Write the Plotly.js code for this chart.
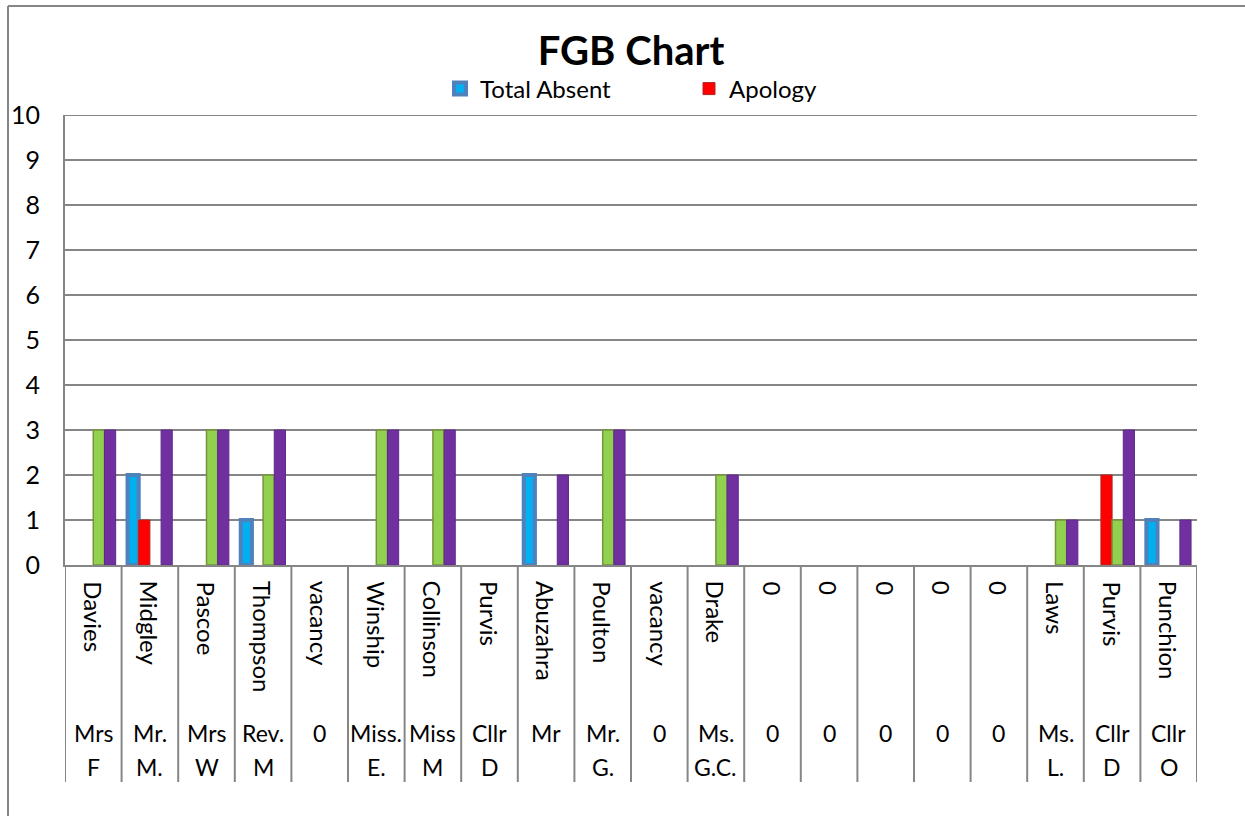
<!DOCTYPE html>
<html><head><meta charset="utf-8">
<script src="https://cdn.plot.ly/plotly-3.0.1.min.js"></script>
<style>html,body{margin:0;padding:0;background:#fff}#chart{width:1245px;height:816px}</style>
</head><body><div id="chart"></div>
<script>
// ---- data ----
const names = ["Davies","Midgley","Pascoe","Thompson","vacancy","Winship","Collinson","Purvis","Abuzahra","Poulton","vacancy","Drake","0","0","0","0","0","Laws","Purvis","Punchion"];
const titleLine1 = ["Mrs","Mr.","Mrs","Rev.","0","Miss.","Miss","Cllr","Mr","Mr.","0","Ms.","0","0","0","0","0","Ms.","Cllr","Cllr"];
const titleLine2 = ["F","M.","W","M","","E.","M","D","","G.","","G.C.","","","","","","L.","D","O"];
const totalAbsent   = [0,2,0,1,0,0,0,0,2,0,0,0,0,0,0,0,0,0,0,1];
const apology       = [0,1,0,0,0,0,0,0,0,0,0,0,0,0,0,0,0,0,2,0];
const attended      = [3,0,3,2,0,3,3,0,0,3,0,2,0,0,0,0,0,1,1,0];
const totalMeetings = [3,3,3,3,0,3,3,0,2,3,0,2,0,0,0,0,0,1,3,1];
const yTickVals = [0,1,2,3,4,5,6,7,8,9,10];

// ---- layout helpers ----
const W = 1245, H = 816;
const M = {l: 65, r: 48, t: 115, b: 251};
const PW = W - M.l - M.r, PH = H - M.t - M.b;
const px = x => (x - M.l) / PW;           // pixel x -> paper
const py = y => (H - M.b - y) / PH;       // pixel y -> paper
const FONT = 'Lato, "Open Sans", sans-serif';
const GRAY = '#868686';

const idx = names.map((_, i) => i);
const nz = vals => vals.map(v => v === 0 ? null : v);   // empty bars are not drawn (as in Excel)

const traces = [
  {type:'bar', name:'Total Absent', x:idx, y:nz(totalAbsent),
   marker:{color:'#00B0F0', line:{color:'#4F81BD', width:4}}},
  {type:'bar', name:'Apology', x:idx, y:nz(apology),
   marker:{color:'#FF0000', line:{color:'#B22222', width:1}}},
  {type:'bar', name:'Attended', x:idx, y:nz(attended), showlegend:false,
   marker:{color:'#92D050', line:{color:'#77933C', width:1.5}}},
  {type:'bar', name:'Total Meetings', x:idx, y:nz(totalMeetings), showlegend:false,
   marker:{color:'#7030A0', line:{color:'#5E2A88', width:1}}}
];

const shapes = [];
for (let i = 0; i <= names.length; i++) {
  shapes.push({type:'line', xref:'x', yref:'paper', x0:i-0.5, x1:i-0.5, y0:0, y1:py(782),
    line:{color:GRAY, width:2}});
}
// top gridline (at the last tick)
const yTop = yTickVals[yTickVals.length - 1];
shapes.push({type:'line', xref:'paper', yref:'y', x0:0, x1:1, y0:yTop, y1:yTop, line:{color:GRAY, width:2}, layer:'below'});
// outer chart border (left and top)
shapes.push({type:'line', xref:'paper', yref:'paper', x0:px(8), x1:px(8), y0:py(6), y1:py(830), line:{color:GRAY, width:2}});
shapes.push({type:'line', xref:'paper', yref:'paper', x0:px(8), x1:px(1260), y0:py(6), y1:py(6), line:{color:GRAY, width:2}});

const annotations = [];
names.forEach((n, i) => {
  annotations.push({x:i, xref:'x', y:py(579), yref:'paper', yanchor:'top', xanchor:'center',
    text:n, textangle:90, showarrow:false, font:{family:FONT, size:24, color:'#000'}});
  annotations.push({x:i, xref:'x', y:py(733), yref:'paper', yanchor:'middle', xanchor:'center',
    text:titleLine1[i], showarrow:false, font:{family:FONT, size:23, color:'#000'}});
  if (titleLine2[i]) annotations.push({x:i, xref:'x', y:py(767), yref:'paper', yanchor:'middle', xanchor:'center',
    text:titleLine2[i], showarrow:false, font:{family:FONT, size:23, color:'#000'}});
});

const layout = {
  width: W, height: H,
  margin: M,
  paper_bgcolor:'#fff', plot_bgcolor:'#fff',
  font:{family:FONT, color:'#000'},
  title:{text:'<b>FGB Chart</b>', font:{family:FONT, size:40, color:'#000'},
         x:0.5, xref:'paper', xanchor:'center', y:1 - 51/H, yref:'container', yanchor:'middle'},
  barmode:'group', bargap:0.21, bargroupgap:0,
  showlegend:true,
  legend:{orientation:'h', x:px(440), xanchor:'left', y:py(89), yanchor:'middle',
          font:{family:FONT, size:24, color:'#000'}, entrywidth:204, entrywidthmode:'pixels',
          bgcolor:'rgba(0,0,0,0)', itemwidth:30},
  xaxis:{range:[-0.5, names.length - 0.5], showticklabels:false, showgrid:false, zeroline:false,
         showline:true, linecolor:GRAY, linewidth:2, ticks:'', fixedrange:true},
  yaxis:{range:[0,10], tickvals:yTickVals, showgrid:true, gridcolor:GRAY, gridwidth:2,
         zeroline:false, showline:true, linecolor:GRAY, linewidth:2,
         ticks:'outside', ticklen:18, tickcolor:'rgba(0,0,0,0)',
         tickfont:{family:FONT, size:25, color:'#000'}, fixedrange:true},
  shapes: shapes,
  annotations: annotations
};

Plotly.newPlot('chart', traces, layout, {displayModeBar:false, staticPlot:true});
</script>
</body></html>
